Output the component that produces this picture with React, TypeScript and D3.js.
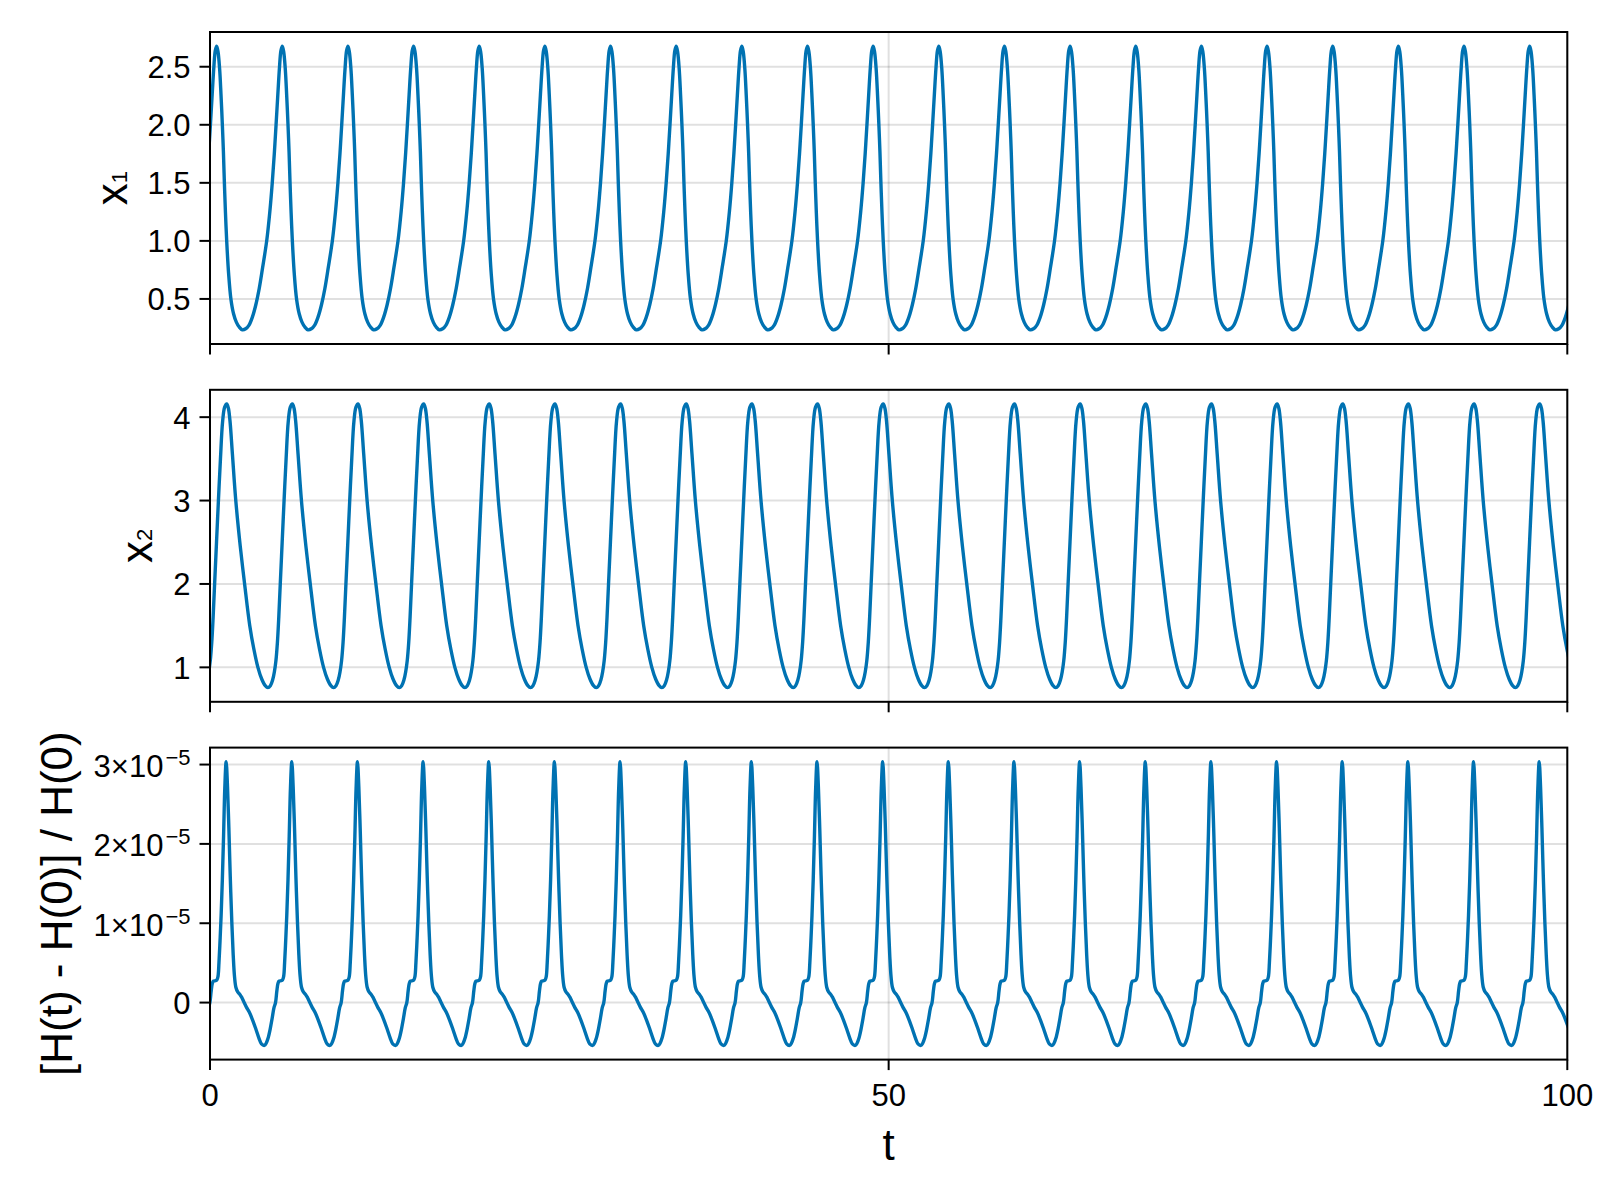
import React from "react";
import * as d3 from "d3";

// ---------------- data ----------------
// time axis
const T_MIN = 0;
const T_MAX = 100;
const xTicks = [0, 50, 100];
const xTickLabels = ["0", "50", "100"];

// every series repeats with this period (read from peak spacing)
const PERIOD = 4.837;

// x1: time of first peak, then one cycle read relative to the peak
const x1FirstPeak = 0.49;
const x1CyclePhase = [
  -2.94, -2.7, -2.45, -2.2, -1.95, -1.7, -1.45, -1.15, -0.92, -0.74, -0.59, -0.46, -0.33, -0.21, -0.1, 0,
  0.1, 0.22, 0.32, 0.42, 0.5, 0.57, 0.65, 0.74, 0.88, 1.05, 1.25, 1.45, 1.65,
];
const x1CycleValue = [
  0.234, 0.243, 0.275, 0.345, 0.45, 0.59, 0.77, 1.0, 1.25, 1.5, 1.75, 2.0, 2.26, 2.49, 2.64, 2.677,
  2.63, 2.48, 2.26, 2.0, 1.76, 1.5, 1.24, 1.0, 0.72, 0.5, 0.37, 0.3, 0.26,
];
const x1Ticks = [0.5, 1.0, 1.5, 2.0, 2.5];
const x1TickLabels = ["0.5", "1.0", "1.5", "2.0", "2.5"];

// x2
const x2FirstPeak = 1.23;
const x2CyclePhase = [
  -1.8, -1.62, -1.45, -1.32, -1.21, -1.1, -1.0, -0.89, -0.75, -0.61, -0.46, -0.3, -0.15, 0,
  0.12, 0.24, 0.42, 0.67, 1.0, 1.32, 1.7, 2.0, 2.3, 2.58, 2.84,
];
const x2CycleValue = [
  0.757, 0.78, 0.85, 0.95, 1.08, 1.3, 1.6, 2.0, 2.5, 3.0, 3.5, 3.95, 4.12, 4.158,
  4.11, 3.96, 3.56, 3.0, 2.45, 2.0, 1.5, 1.22, 1.0, 0.86, 0.78,
];
const x2Ticks = [1, 2, 3, 4];
const x2TickLabels = ["1", "2", "3", "4"];

// relative energy error, values in units of 1e-5
const hFirstPeak = 1.19;
const hCyclePhase = [
  -2.02, -1.88, -1.75, -1.6, -1.45, -1.32, -1.2, -1.1, -1.02, -0.94, -0.8, -0.68, -0.6, -0.53, -0.45,
  -0.37, -0.28, -0.19, -0.1, 0, 0.1, 0.2, 0.3, 0.42, 0.52, 0.62, 0.72, 0.85, 1.0, 1.15, 1.3, 1.5, 1.7,
  1.95, 2.2, 2.42, 2.6,
];
const hCycleValue = [
  -0.54, -0.51, -0.45, -0.34, -0.2, -0.07, 0.0, 0.15, 0.24, 0.27, 0.275, 0.285, 0.33, 0.5, 0.78,
  1.1, 1.55, 2.1, 2.7, 3.035, 2.72, 2.2, 1.6, 1.0, 0.6, 0.32, 0.19, 0.135, 0.105, 0.065, 0.01, -0.06, -0.12,
  -0.22, -0.34, -0.45, -0.52,
];
const hTicks = [0, 1, 2, 3];
const hTickBase = ["0", "1×10", "2×10", "3×10"];
const hTickExp = ["", "−5", "−5", "−5"];

// ---------------- layout / style ----------------
const W = 1600;
const H = 1200;
const LEFT = 210;
const RIGHT = 1567.3;
const PANEL_TOPS = [32, 389.8, 747.6];
const PANEL_H = 312;
const FONT = "'Liberation Sans', Arimo, Arial, Helvetica, sans-serif";
const BLUE = "#0072b2";
const TICK_FS = 31;
const LABEL_FS = 44;

function tile(firstPeak: number, phases: number[], values: number[]): [number, number][] {
  const pts: [number, number][] = [];
  for (let k = -2; k <= 23; k++) {
    for (let i = 0; i < phases.length; i++) {
      const t = firstPeak + k * PERIOD + phases[i];
      if (t >= T_MIN - 2 && t <= T_MAX + 2) pts.push([t, values[i]]);
    }
  }
  pts.sort((a, b) => a[0] - b[0]);
  return pts;
}

function paddedDomain(values: number[]): [number, number] {
  const [lo, hi] = d3.extent(values) as [number, number];
  const pad = (hi - lo) * 0.05;
  return [lo - pad, hi + pad];
}

export default function App() {
  const x = d3.scaleLinear().domain([T_MIN, T_MAX]).range([LEFT, RIGHT]);

  const panels = [
    {
      data: tile(x1FirstPeak, x1CyclePhase, x1CycleValue),
      domain: paddedDomain(x1CycleValue),
      ticks: x1Ticks,
      base: x1TickLabels,
      exp: x1TickLabels.map(() => ""),
      labelMain: "x",
      labelSub: "1",
      labelX: 126.7,
    },
    {
      data: tile(x2FirstPeak, x2CyclePhase, x2CycleValue),
      domain: paddedDomain(x2CycleValue),
      ticks: x2Ticks,
      base: x2TickLabels,
      exp: x2TickLabels.map(() => ""),
      labelMain: "x",
      labelSub: "2",
      labelX: 151.7,
    },
    {
      data: tile(hFirstPeak, hCyclePhase, hCycleValue),
      domain: paddedDomain(hCycleValue),
      ticks: hTicks,
      base: hTickBase,
      exp: hTickExp,
      labelMain: "[H(t) - H(0)] / H(0)",
      labelSub: "",
      labelX: 71.7,
    },
  ];

  return (
    <svg
      width={W}
      height={H}
      style={{ position: "absolute", left: 0, top: 0, display: "block" }}
      fontFamily={FONT}
    >
      <rect x={0} y={0} width={W} height={H} fill="#ffffff" />
      {panels.map((p, i) => {
        const top = PANEL_TOPS[i];
        const bottom = top + PANEL_H;
        const y = d3.scaleLinear().domain(p.domain).range([bottom, top]);
        const line = d3
          .line<[number, number]>()
          .x((d) => x(d[0]))
          .y((d) => y(d[1]))
          .curve(d3.curveCatmullRom.alpha(0.5));
        const cy = (top + bottom) / 2;
        return (
          <g key={i}>
            <defs>
              <clipPath id={`clip${i}`}>
                <rect x={LEFT} y={top} width={RIGHT - LEFT} height={PANEL_H} />
              </clipPath>
            </defs>
            {/* grid */}
            {p.ticks.map((v, j) => (
              <line
                key={`gy${j}`}
                x1={LEFT}
                x2={RIGHT}
                y1={y(v)}
                y2={y(v)}
                stroke="#000"
                strokeOpacity={0.12}
                strokeWidth={2}
              />
            ))}
            {xTicks.map((v, j) => (
              <line
                key={`gx${j}`}
                x1={x(v)}
                x2={x(v)}
                y1={top}
                y2={bottom}
                stroke="#000"
                strokeOpacity={0.12}
                strokeWidth={2}
              />
            ))}
            {/* series */}
            <path
              d={line(p.data) || ""}
              fill="none"
              stroke={BLUE}
              strokeWidth={3.4}
              strokeLinejoin="round"
              clipPath={`url(#clip${i})`}
            />
            {/* frame */}
            <rect
              x={LEFT}
              y={top}
              width={RIGHT - LEFT}
              height={PANEL_H}
              fill="none"
              stroke="#000"
              strokeWidth={2}
            />
            {/* y ticks */}
            {p.ticks.map((v, j) => (
              <g key={`yt${j}`}>
                <line x1={LEFT - 10.5} x2={LEFT} y1={y(v)} y2={y(v)} stroke="#000" strokeWidth={2} />
                <text
                  x={190.5}
                  y={y(v) + (p.exp[j] ? 12.5 : 11.5)}
                  textAnchor="end"
                  fontSize={TICK_FS}
                  fill="#000"
                >
                  {p.base[j]}
                  {p.exp[j] ? (
                    <tspan fontSize={22} dy={-12} dx={2}>
                      {p.exp[j]}
                    </tspan>
                  ) : null}
                </text>
              </g>
            ))}
            {/* x ticks */}
            {xTicks.map((v, j) => (
              <line
                key={`xt${j}`}
                x1={x(v)}
                x2={x(v)}
                y1={bottom}
                y2={bottom + 10.5}
                stroke="#000"
                strokeWidth={2}
              />
            ))}
            {/* y label */}
            <text
              transform={`translate(${p.labelX},${cy}) rotate(-90)`}
              textAnchor="middle"
              fontSize={LABEL_FS}
              fill="#000"
            >
              {p.labelMain}
              {p.labelSub ? <tspan fontSize={22}>{p.labelSub}</tspan> : null}
            </text>
            {i === panels.length - 1
              ? xTicks.map((v, j) => (
                  <text
                    key={`xl${j}`}
                    x={x(v)}
                    y={bottom + 46.7}
                    textAnchor="middle"
                    fontSize={TICK_FS}
                    fill="#000"
                  >
                    {xTickLabels[j]}
                  </text>
                ))
              : null}
          </g>
        );
      })}
      <text x={x(50)} y={1160} textAnchor="middle" fontSize={LABEL_FS} fill="#000">
        t
      </text>
    </svg>
  );
}
